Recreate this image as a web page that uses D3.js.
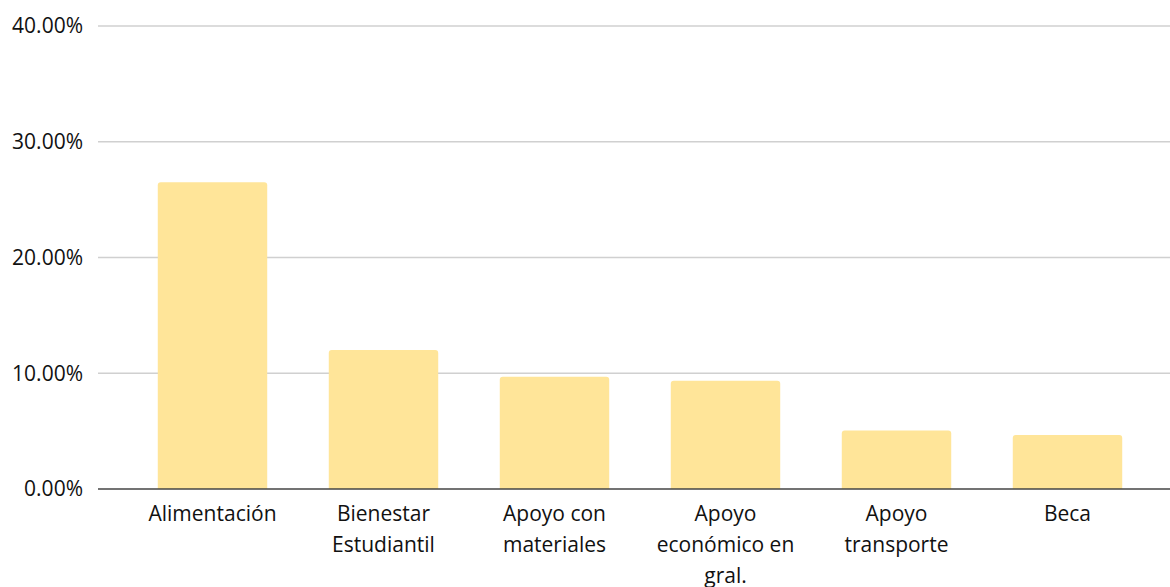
<!DOCTYPE html>
<html>
<head>
<meta charset="utf-8">
<script src="https://cdn.jsdelivr.net/npm/d3@7"></script>
<style>
  body { margin: 0; background: #fff; }
  text { font-family: "Open Sans", "Noto Sans", sans-serif; fill: #111; }
</style>
</head>
<body>
<script>
const width = 1170;
const height = 587;

// Data
const categories = [
  ["Alimentación"],
  ["Bienestar", "Estudiantil"],
  ["Apoyo con", "materiales"],
  ["Apoyo", "económico en", "gral."],
  ["Apoyo", "transporte"],
  ["Beca"]
];
const values = [0.265, 0.12, 0.097, 0.0935, 0.0505, 0.0467];
const yTicks = [0, 0.1, 0.2, 0.3, 0.4];

const margin = { top: 26, bottom: 98, left: 98 };

const svg = d3.select("body").append("svg")
  .attr("width", width)
  .attr("height", height);

const x = d3.scaleBand()
  .domain(d3.range(categories.length))
  .range([127, 1153])
  .paddingInner(0.36)
  .paddingOuter(0.18);

const y = d3.scaleLinear()
  .domain([0, 0.4])
  .range([height - margin.bottom, margin.top]);

// Gridlines
svg.append("g")
  .selectAll("line")
  .data(yTicks.slice(1))
  .enter()
  .append("line")
  .attr("x1", margin.left)
  .attr("x2", width)
  .attr("y1", d => y(d))
  .attr("y2", d => y(d))
  .attr("stroke", "#d0d0d0")
  .attr("stroke-width", 1.5);

// Y tick labels
svg.append("g")
  .selectAll("text")
  .data(yTicks)
  .enter()
  .append("text")
  .attr("x", 83)
  .attr("y", d => y(d))
  .attr("dy", "0.35em")
  .attr("text-anchor", "end")
  .style("font-size", "21px")
  .text(d => d3.format(".2%")(d));

// Bars with slightly rounded tops
svg.append("g")
  .selectAll("path")
  .data(values)
  .enter()
  .append("path")
  .attr("fill", "#ffe599")
  .attr("d", (d, i) => {
    const x0 = x(i), w = x.bandwidth(), y0 = y(d), yb = y(0), r = 3;
    return `M${x0},${yb}V${y0 + r}Q${x0},${y0} ${x0 + r},${y0}H${x0 + w - r}Q${x0 + w},${y0} ${x0 + w},${y0 + r}V${yb}Z`;
  });

// Baseline
svg.append("line")
  .attr("x1", margin.left)
  .attr("x2", width)
  .attr("y1", y(0))
  .attr("y2", y(0))
  .attr("stroke", "#444")
  .attr("stroke-width", 1.5);

// Category labels
const labels = svg.append("g")
  .selectAll("text")
  .data(categories)
  .enter()
  .append("text")
  .attr("text-anchor", "middle")
  .attr("x", (d, i) => x(i) + x.bandwidth() / 2)
  .attr("y", y(0) + 32)
  .style("font-size", "21px");

labels.selectAll("tspan")
  .data(d => d)
  .enter()
  .append("tspan")
  .attr("x", function () { return d3.select(this.parentNode).attr("x"); })
  .attr("dy", (d, i) => i === 0 ? 0 : 31)
  .text(d => d);
</script>
</body>
</html>
